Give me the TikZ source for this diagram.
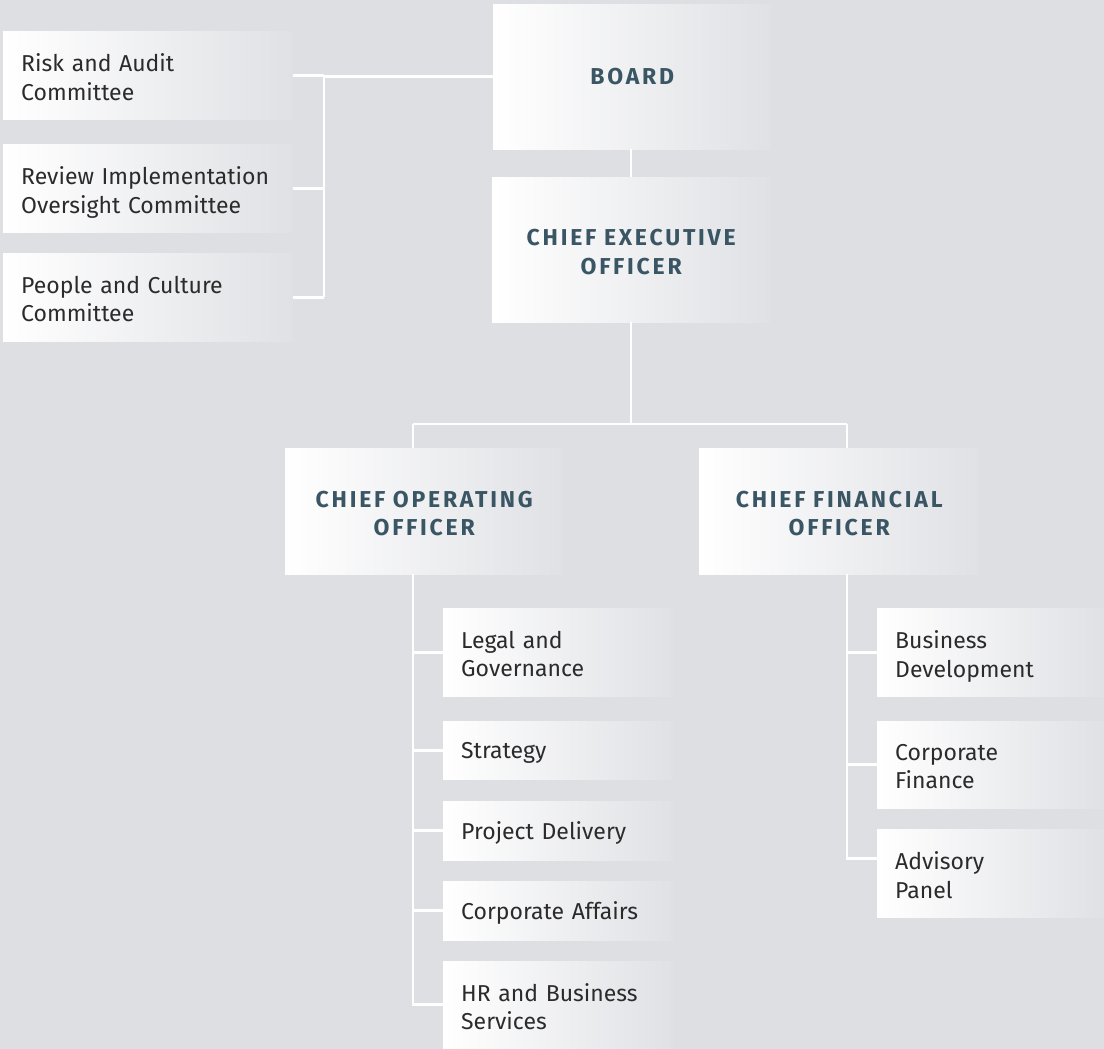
\documentclass[tikz,border=0pt]{standalone}
\usepackage{fontspec}
\setmainfont{Fira Sans}
\definecolor{bg}{HTML}{DEDFE3}
\definecolor{boxend}{HTML}{E0E1E5}
\definecolor{titlecol}{HTML}{3A5664}
\definecolor{bodycol}{HTML}{2B2B2B}
\tikzset{
  orgbox/.style={anchor=north west, inner ysep=0pt, inner xsep=18pt,
    text depth=0pt, left color=white, right color=boxend, draw=none},
  leftbox/.style={orgbox, align=left, text=bodycol,
    font=\fontsize{23}{28.5}\selectfont},
  headbox/.style={orgbox, align=center, text=titlecol,
    font=\fontsize{23}{28.5}\selectfont\bfseries\addfontfeature{LetterSpace=12}},
  twoline/.style={text depth=25pt},
  twohead/.style={text depth=24pt},
  link/.style={draw=white, line width=2.7pt}
}
\begin{document}
\begin{tikzpicture}[x=1pt, y=-1pt]
  \fill[bg] (0,0) rectangle (1104,1049);
  \useasboundingbox (0,0) rectangle (1104,1049);

  % committees
  \node[leftbox, twoline, minimum width=290pt, text width=254pt, minimum height=88pt] (c1) at (3,31) {Risk and Audit\\Committee};
  \node[leftbox, twoline, minimum width=290pt, text width=254pt, minimum height=88pt] (c2) at (3,144) {Review Implementation\\Oversight Committee};
  \node[leftbox, twoline, minimum width=290pt, text width=254pt, minimum height=88pt] (c3) at (3,253) {People and Culture\\Committee};

  % executive boxes
  \node[headbox, minimum width=278pt, text width=242pt, minimum height=145pt] (board) at (493,4) {BOARD};
  \node[headbox, twohead, minimum width=278pt, text width=242pt, minimum height=145pt] (ceo) at (492,177) {CHIEF EXECUTIVE\\OFFICER};
  \node[headbox, twohead, minimum width=278pt, text width=242pt, minimum height=126pt] (coo) at (285,448) {CHIEF OPERATING\\OFFICER};
  \node[headbox, twohead, minimum width=280pt, text width=244pt, minimum height=126pt] (cfo) at (699,448) {CHIEF FINANCIAL\\OFFICER};

  % COO units
  \node[leftbox, twoline, minimum width=230pt, text width=194pt, minimum height=88pt] (legal) at (443,608) {Legal and\\Governance};
  \node[leftbox, minimum width=230pt, text width=194pt, minimum height=58pt] (strat) at (443,721) {Strategy};
  \node[leftbox, minimum width=230pt, text width=194pt, minimum height=59pt] (proj) at (443,801) {Project Delivery};
  \node[leftbox, minimum width=230pt, text width=194pt, minimum height=59pt] (corpaff) at (443,881) {Corporate Affairs};
  \node[leftbox, twoline, minimum width=230pt, text width=194pt, minimum height=87pt] (hr) at (443,961) {HR and Business\\Services};

  % CFO units
  \node[leftbox, twoline, minimum width=227pt, text width=191pt, minimum height=88pt] (busdev) at (877,608) {Business\\Development};
  \node[leftbox, twoline, minimum width=227pt, text width=191pt, minimum height=87pt] (corpfin) at (877,721) {Corporate\\Finance};
  \node[leftbox, twoline, minimum width=227pt, text width=191pt, minimum height=88pt] (adv) at (877,829) {Advisory\\Panel};

  % spine positions
  \coordinate (cspine) at (324,0);
  \coordinate (fork) at (631,424);
  \coordinate (coospine) at (413,0);
  \coordinate (cfospine) at (847,0);

  % board and committees
  \draw[link] (board.west) -- (board.west -| cspine);
  \draw[link] (c1.east) -- (c1.east -| cspine);
  \draw[link] (c2.east) -- (c2.east -| cspine);
  \draw[link] (c3.east) -- (c3.east -| cspine);
  \draw[link] (c1.east -| cspine) -- (c3.east -| cspine);

  % executive chain
  \draw[link] (board.south -| fork) -- (ceo.north -| fork);
  \draw[link] (ceo.south -| fork) -- (fork);
  \draw[link] (fork -| coospine) -- (fork -| cfospine);
  \draw[link] (fork -| coospine) -- (coo.north -| coospine);
  \draw[link] (fork -| cfospine) -- (cfo.north -| cfospine);

  % COO reports
  \draw[link] (coo.south -| coospine) |- (hr.west);
  \draw[link] (legal.west -| coospine) -- (legal.west);
  \draw[link] (strat.west -| coospine) -- (strat.west);
  \draw[link] (proj.west -| coospine) -- (proj.west);
  \draw[link] (corpaff.west -| coospine) -- (corpaff.west);

  % CFO reports
  \draw[link] (cfo.south -| cfospine) |- ([yshift=14.5pt]adv.west);
  \draw[link] (busdev.west -| cfospine) -- (busdev.west);
  \draw[link] (corpfin.west -| cfospine) -- (corpfin.west);
\end{tikzpicture}
\end{document}
